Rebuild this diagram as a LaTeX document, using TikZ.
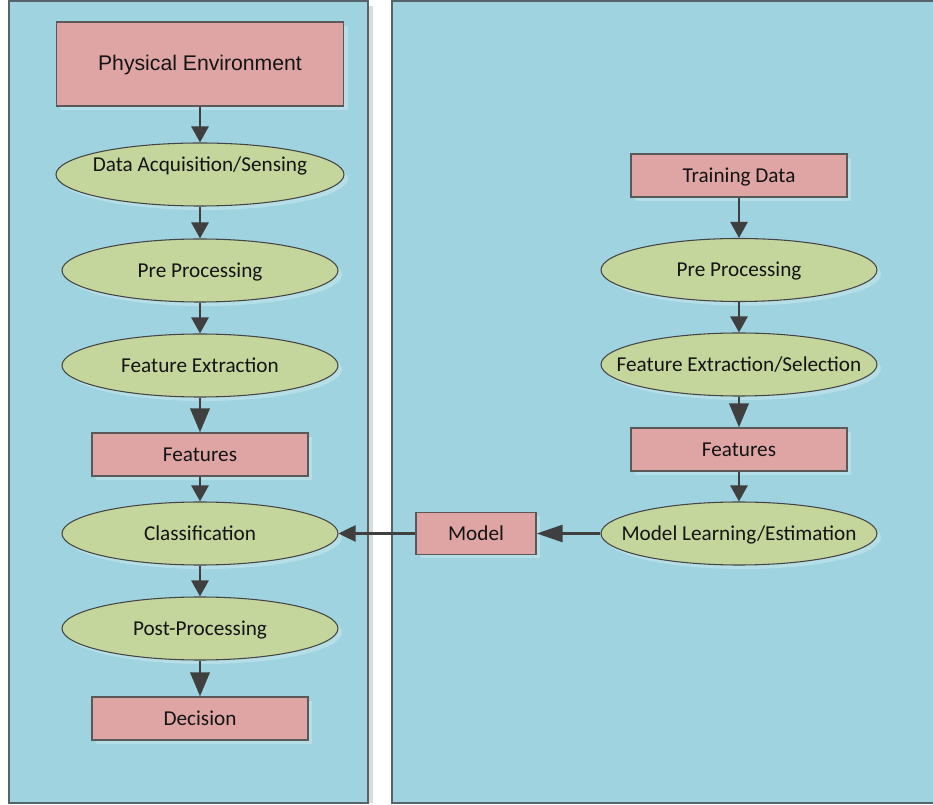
\documentclass[tikz,border=0pt]{standalone}
\usepackage{fontspec}
\setmainfont{Carlito}
\newfontfamily\arialfont{Liberation Sans}
\usetikzlibrary{arrows.meta,shapes.geometric,shadows}

\definecolor{panelfill}{HTML}{9ED3DF}
\definecolor{panelline}{HTML}{56636B}
\definecolor{panelshade}{HTML}{DADADA}
\definecolor{rectfill}{HTML}{DFA5A5}
\definecolor{rectline}{HTML}{595959}
\definecolor{ovalfill}{HTML}{C5D69D}
\definecolor{ovalline}{HTML}{454545}
\definecolor{shadowc}{HTML}{B6DEE7}
\definecolor{arrowc}{HTML}{3F3F3F}
\definecolor{textc}{HTML}{141414}

% text of fixed-size shapes must not widen them
\newcommand\nodetext[1]{\makebox[0pt]{#1}}

\begin{document}
\begin{tikzpicture}[x=0.75pt,y=-0.75pt,
  font=\fontsize{15.9pt}{19pt}\selectfont, text=textc,
  every node/.style={text height=10pt, text depth=0pt},
  shade/.style={general shadow={fill=shadowc, shadow xshift=3pt, shadow yshift=-3pt}},
  box/.style={rectangle, draw=rectline, line width=1pt, fill=rectfill, inner sep=0pt,
    minimum width=162pt, minimum height=32.25pt, shade},
  oval/.style={ellipse, draw=ovalline, line width=0.8pt, fill=ovalfill, inner sep=0pt,
    minimum width=207pt, minimum height=47.25pt, shade},
  flow/.style={draw=arrowc, line width=2pt},
  tipS/.style={-{Triangle[length=12pt,width=12.75pt]}},
  tipL/.style={-{Triangle[length=18pt,width=14.5pt]}}]

% canvas
\fill[white] (0,0) rectangle (933,805);
\useasboundingbox (0,0) rectangle (933,805);

% left panel with its side shade
\fill[panelshade] (368,6) rectangle (373,803);
\filldraw[fill=panelfill, draw=panelline, line width=1.5pt] (8.5,1.5) rectangle (368,802.5);

% right panel, running off the right edge
\fill[panelfill] (391.5,1.5) rectangle (933,802.5);
\draw[panelline, line width=1.5pt] (936,1.5) -- (391.5,1.5) -- (391.5,802.5) -- (936,802.5);

% recognition chain
\node[box, minimum width=215.25pt, minimum height=63pt] (phys) at (200,64)
  {\nodetext{\arialfont Physical Environment}};
\node[oval, minimum width=216pt] (acq) at (200,174.5)
  {\nodetext{\raisebox{7.5pt}[0pt][0pt]{Data Acquisition/Sensing}}};
\node[oval] (preL) at (200,270.5) {\nodetext{Pre Processing}};
\node[oval] (featL) at (200,365.5) {\nodetext{Feature Extraction}};
\node[box] (featsL) at (200,454.5) {\nodetext{Features}};
\node[oval] (cls) at (200,533.5) {\nodetext{Classification}};
\node[oval] (post) at (200,628.5) {\nodetext{Post-Processing}};
\node[box] (dec) at (200,718.5) {\nodetext{Decision}};

% training chain
\node[box] (train) at (739,175.5) {\nodetext{Training Data}};
\node[oval] (preR) at (739,270) {\nodetext{Pre Processing}};
\node[oval] (featR) at (739,364.5) {\nodetext{Feature Extraction/Selection}};
\node[box] (featsR) at (739,449.5) {\nodetext{Features}};
\node[oval] (learn) at (739,533.5) {\nodetext{Model Learning/Estimation}};
\node[box, minimum width=90pt, minimum height=31.5pt] (model) at (476,533.5) {\nodetext{Model}};

% connectors
\draw[flow, tipS] (phys.south) -- (acq.north);
\draw[flow, tipS] (acq.south) -- (preL.north);
\draw[flow, tipS] (preL.south) -- (featL.north);
\draw[flow, tipL] (featL.south) -- (featsL.north);
\draw[flow, tipS] (featsL.south) -- (cls.north);
\draw[flow, tipS] (cls.south) -- (post.north);
\draw[flow, tipL] (post.south) -- (dec.north);

\draw[flow, tipS] (train.south) -- (preR.north);
\draw[flow, tipS] (preR.south) -- (featR.north);
\draw[flow, tipL] (featR.south) -- (featsR.north);
\draw[flow, tipS] (featsR.south) -- (learn.north);
\draw[flow, -{Triangle[length=19.5pt,width=12.75pt]}] (learn.west) -- (model.east);
\draw[flow, -{Triangle[length=12.75pt,width=12pt]}] (model.west) -- (cls.east);
\end{tikzpicture}
\end{document}
